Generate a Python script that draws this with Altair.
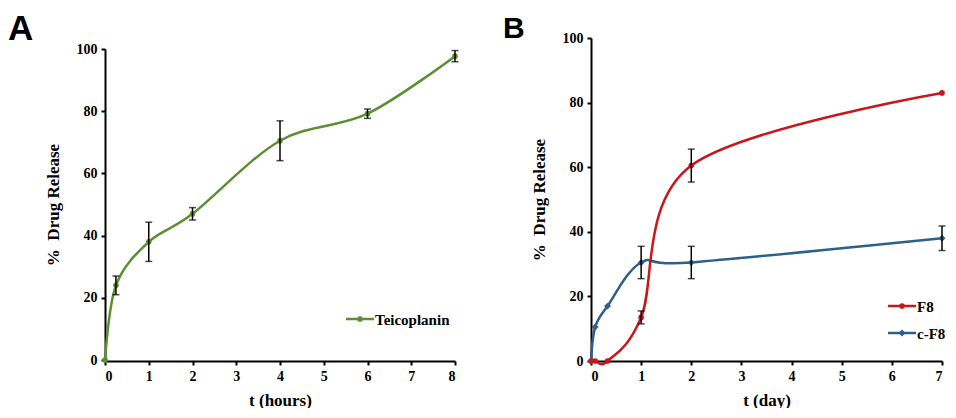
import altair as alt
import pandas as pd

# ---------------- data ----------------
A_t = [0, 0.25, 1, 2, 4, 6, 8]
A_teico = [0, 24, 38, 47, 70.5, 79.2, 97.7]
A_teico_err = [0, 3, 6.3, 2, 6.4, 1.5, 1.8]

B_t = [0, 0.083, 0.33, 1, 2, 7]
B_f8 = [0, 0, 0, 13.5, 60.5, 83]
B_f8_err = [0, 0, 0, 2, 5.1, 0]
B_cf8 = [0, 10.5, 17, 30.5, 30.5, 38]
B_cf8_err = [0, 0, 0, 5, 5, 3.8]

A_xticks = [0, 1, 2, 3, 4, 5, 6, 7, 8]
B_xticks = [0, 1, 2, 3, 4, 5, 6, 7]
yticks = [0, 20, 40, 60, 80, 100]

GREEN = "#5c8e32"
RED = "#c8161d"
BLUE = "#2e5f8a"
SERIF = "Liberation Serif, Times New Roman, serif"
SANS = "Liberation Sans, Arial, sans-serif"
YTITLE = "%\u00a0\u00a0Drug Release"

H = 323
WB = 351


def series(t, v, err, color, shape, size, xenc, yscale, xtitle):
    df = pd.DataFrame({"t": t, "v": v, "err": err})
    df["lo"] = df["v"] - df["err"]
    df["hi"] = df["v"] + df["err"]
    base = alt.Chart(df)
    X = alt.X("t:Q", scale=xenc[0], axis=xenc[1], title=xtitle)
    yaxis = alt.Axis(values=yticks, title=YTITLE, titlePadding=14)
    line = base.mark_line(interpolate="cardinal", color=color, strokeWidth=2.5).encode(
        x=X, y=alt.Y("v:Q", scale=yscale, axis=yaxis, title=YTITLE))
    pts = base.mark_point(shape=shape, filled=True, color=color, size=size, opacity=1).encode(
        x=X, y=alt.Y("v:Q", scale=yscale, axis=yaxis, title=YTITLE))
    eb = base.transform_filter("datum.err > 0").mark_errorbar(
        color="black", thickness=1.5, size=7,
        ticks={"size": 7, "thickness": 1.5, "color": "black"}).encode(
        x=X, y=alt.Y("lo:Q", scale=yscale, axis=yaxis, title=YTITLE), y2="hi:Q")
    return [line, pts, eb]


def legend_entry(label, color, shape, size, x0, y):
    d = alt.Chart(pd.DataFrame({"label": [label]}))
    r = d.mark_rule(color=color, strokeWidth=2.5).encode(
        x=alt.value(x0), x2=alt.value(x0 + 28), y=alt.value(y))
    p = d.mark_point(shape=shape, filled=True, color=color, size=size, opacity=1).encode(
        x=alt.value(x0 + 14), y=alt.value(y))
    tx = d.mark_text(align="left", baseline="middle", font=SERIF, fontWeight="bold",
                     fontSize=15, color="black").encode(
        x=alt.value(x0 + 29), y=alt.value(y + 1), text="label:N")
    return [r, p, tx]


def letter(ch, dx, dy, size):
    return alt.Chart(pd.DataFrame({"c": [ch]})).mark_text(
        align="left", baseline="alphabetic", font=SANS, fontWeight="bold",
        fontSize=size, color="black").encode(x=alt.value(dx), y=alt.value(dy), text="c:N")


# ---------------- panel A ----------------
A_x = (alt.Scale(domain=[0, 8], nice=False), alt.Axis(values=A_xticks, format="d", titlePadding=9))
A_y = alt.Scale(domain=[0, 100], range=[H - 1, 11], nice=False)
panelA = alt.layer(
    *series(A_t, A_teico, A_teico_err, GREEN, "circle", 32, A_x, A_y, "t (hours)"),
    *legend_entry("Teicoplanin", GREEN, "circle", 32, 241, 281),
    letter("A", -97, 2, 35),
).properties(width=350, height=H)

# ---------------- panel B ----------------
B_x = (alt.Scale(domain=[0, 7], nice=False), alt.Axis(values=B_xticks, format="d", titlePadding=9))
B_y = alt.Scale(domain=[0, 100], range=[H, 0], nice=False)
panelB = alt.layer(
    *series(B_t, B_cf8, B_cf8_err, BLUE, "diamond", 48, B_x, B_y, "t (day)"),
    *series(B_t, B_f8, B_f8_err, RED, "circle", 32, B_x, B_y, "t (day)"),
    *legend_entry("F8", RED, "circle", 32, WB - 54, 268),
    *legend_entry("c-F8", BLUE, "diamond", 48, WB - 54, 295),
    letter("B", -88, 0, 30),
).properties(width=WB, height=H)

chart = alt.hconcat(panelA, panelB, spacing=43).properties(
    padding={"left": 0, "top": 4, "right": 0, "bottom": 0}
).configure_view(stroke=None).configure_axis(
    grid=False,
    domainColor="black", domainWidth=2,
    tickColor="black", tickWidth=2, tickSize=4,
    labelFont=SERIF, labelFontWeight="bold", labelFontSize=14, labelColor="black",
    labelPadding=4,
    titleFont=SERIF, titleFontWeight="bold", titleFontSize=17, titleColor="black",
)

chart.save("out.html", embed_options={"renderer": "svg", "actions": False})
